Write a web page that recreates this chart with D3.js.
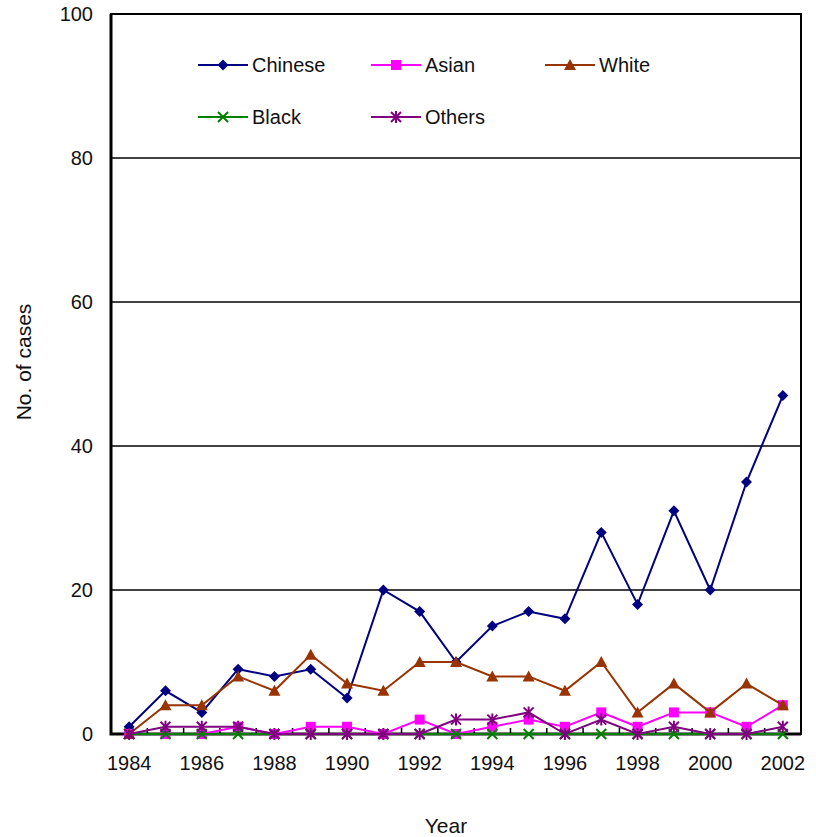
<!DOCTYPE html>
<html>
<head>
<meta charset="utf-8">
<script src="https://cdn.jsdelivr.net/npm/d3@7"></script>
<style>
  body { margin: 0; background: #fff; }
  text { font-family: "Liberation Sans", Arial, sans-serif; fill: #111; }
</style>
</head>
<body>
<script>
// data
const years = [1984, 1985, 1986, 1987, 1988, 1989, 1990, 1991, 1992, 1993, 1994, 1995, 1996, 1997, 1998, 1999, 2000, 2001, 2002]
const chinese = [1, 6, 3, 9, 8, 9, 5, 20, 17, 10, 15, 17, 16, 28, 18, 31, 20, 35, 47]
const asian = [0, 0, 0, 1, 0, 1, 1, 0, 2, 0, 1, 2, 1, 3, 1, 3, 3, 1, 4]
const white = [0, 4, 4, 8, 6, 11, 7, 6, 10, 10, 8, 8, 6, 10, 3, 7, 3, 7, 4]
const black = [0, 0, 0, 0, 0, 0, 0, 0, 0, 0, 0, 0, 0, 0, 0, 0, 0, 0, 0]
const others = [0, 1, 1, 1, 0, 0, 0, 0, 0, 2, 2, 3, 0, 2, 0, 1, 0, 0, 1]
const yTicks = [0, 20, 40, 60, 80, 100]

const series = [
    { name: 'Chinese', values: chinese, color: '#000080', marker: 'diamond' },
    { name: 'Asian', values: asian, color: '#ff00ff', marker: 'square' },
    { name: 'White', values: white, color: '#993300', marker: 'triangle' },
    { name: 'Black', values: black, color: '#008000', marker: 'cross' },
    { name: 'Others', values: others, color: '#800080', marker: 'star' }
]

let margin = { top: 14, right: 15, bottom: 103, left: 111 },
    width = 816 - margin.left - margin.right,
    height = 837 - margin.top - margin.bottom

let svg = d3.select('body').append('svg')
    .attr('width', 816)
    .attr('height', 837)

let g = svg.append('g')
    .attr('transform', 'translate(' + margin.left + ',' + margin.top + ')')

let x = d3.scaleBand().domain(years).range([0, width])
let y = d3.scaleLinear().domain([0, 100]).range([height, 0])
let cx = d => x(d) + x.bandwidth() / 2

// gridlines
g.selectAll('.grid').data(yTicks.filter(t => t > 0 && t < 100)).enter()
    .append('line')
    .attr('x1', 0).attr('x2', width)
    .attr('y1', d => y(d)).attr('y2', d => y(d))
    .attr('stroke', '#000').attr('stroke-width', 1.5)

// frame (top/right thinner, left/bottom heavier)
g.append('rect')
    .attr('width', width).attr('height', height)
    .attr('fill', 'none').attr('stroke', '#000').attr('stroke-width', 2)
g.append('path')
    .attr('d', 'M0,0V' + height + 'H' + width)
    .attr('fill', 'none').attr('stroke', '#000').attr('stroke-width', 3)

// y axis labels
let yAxis = g.append('g')
    .call(d3.axisLeft(y).tickValues(yTicks).tickSize(0).tickPadding(18))
yAxis.select('.domain').remove()
yAxis.selectAll('text').style('font-size', '20px').attr('fill', '#111')

// x axis: ticks between categories, labels every other year
let xAxis = g.append('g')
    .attr('transform', 'translate(0,' + height + ')')
    .call(d3.axisBottom(x).tickValues(years.filter((d, i) => i % 2 == 0)).tickSize(0).tickPadding(22))
xAxis.select('.domain').remove()
xAxis.selectAll('text').style('font-size', '20px').attr('fill', '#111')

g.selectAll('.xtick').data(years.slice(1)).enter()
    .append('line')
    .attr('x1', d => x(d)).attr('x2', d => x(d))
    .attr('y1', height).attr('y2', height - 6)
    .attr('stroke', '#000').attr('stroke-width', 1.5)

// axis titles
g.append('text')
    .attr('x', width / 2 - 10).attr('y', height + 99)
    .attr('text-anchor', 'middle')
    .style('font-size', '21px')
    .text('Year')

g.append('text')
    .attr('transform', 'translate(-80,' + (height / 2 - 12) + ') rotate(-90)')
    .attr('text-anchor', 'middle')
    .style('font-size', '21px')
    .text('No. of cases')

function drawMarker(sel, type, color) {
    if (type == 'diamond') {
        sel.append('path').attr('d', 'M0,-5.5L5.5,0L0,5.5L-5.5,0Z').attr('fill', color)
    } else if (type == 'square') {
        sel.append('rect').attr('x', -5).attr('y', -5).attr('width', 10).attr('height', 10).attr('fill', color)
    } else if (type == 'triangle') {
        sel.append('path').attr('d', 'M0,-6L6,5L-6,5Z').attr('fill', color)
    } else if (type == 'cross') {
        sel.append('path').attr('d', 'M-5,-5L5,5M-5,5L5,-5').attr('stroke', color).attr('stroke-width', 2)
    } else {
        sel.append('path').attr('d', 'M-5,-5L5,5M-5,5L5,-5M0,-6L0,6').attr('stroke', color).attr('stroke-width', 2)
    }
}

let line = d3.line()
    .x((d, i) => cx(years[i]))
    .y(d => y(d))

series.forEach(s => {
    g.append('path')
        .datum(s.values)
        .attr('d', line)
        .attr('fill', 'none')
        .attr('stroke', s.color)
        .attr('stroke-width', 2)
    s.values.forEach((v, i) => {
        let m = g.append('g').attr('transform', 'translate(' + cx(years[i]) + ',' + y(v) + ')')
        drawMarker(m, s.marker, s.color)
    })
})

// legend
let legendPos = [[198, 65], [371, 65], [545, 65], [198, 117], [371, 117]]
series.forEach((s, i) => {
    let lg = svg.append('g').attr('transform', 'translate(' + legendPos[i][0] + ',' + legendPos[i][1] + ')')
    lg.append('line').attr('x1', 0).attr('x2', 50).attr('stroke', s.color).attr('stroke-width', 2)
    drawMarker(lg.append('g').attr('transform', 'translate(25,0)'), s.marker, s.color)
    lg.append('text').attr('x', 54).attr('dy', '0.35em').style('font-size', '20px').text(s.name)
})
</script>
</body>
</html>
